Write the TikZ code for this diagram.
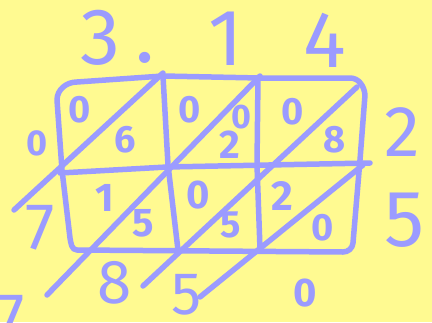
\documentclass[tikz,border=0pt]{standalone}
\usepackage{fontspec}
\setmainfont{Fira Sans}
\definecolor{bg}{RGB}{255,250,145}
\definecolor{ink}{RGB}{155,155,255}
\tikzset{
  pen/.style={draw=ink, line width=5.5pt, line cap=round, line join=round},
  dig/.style={text=ink, inner sep=0pt, font=\fontsize{#1}{#1}\selectfont},
  sdig/.style={text=ink, inner sep=0pt, font=\fontsize{#1}{#1}\selectfont\bfseries},
}
\begin{document}
\begin{tikzpicture}[x=1pt,y=-1pt]
\fill[bg] (0,0) rectangle (432,322);
\useasboundingbox (0,0) rectangle (432,322);
% grid outline
\draw[pen] (77,82) -- (163,76) -- (260,78) -- (350,78) to[out=0,in=95] (365,95) -- (360,160) -- (353,243) to[out=-95,in=0] (343,252) -- (77,250) to[out=180,in=-80] (70,238) -- (62,170) -- (57,100) to[out=90,in=180] (77,82);
\draw[pen] (163,76) -- (168,165) -- (178,250);
\draw[pen] (258,78) -- (257,165) -- (260,249);
\draw[pen] (60,173) -- (167,167) -- (370,163);
% diagonals
\draw[pen] (163,73) -- (14,210);
\draw[pen] (260,76) -- (47,295);
\draw[pen] (357,87) -- (143,286);
\draw[pen] (363,165) -- (200,297);
% top numbers
\node[dig=80] (t3) at (100,38) {3};
\node[dig=80] (tdot) at (145,58) {.};
\node[dig=80] (t1) at (226,39) {1};
\node[dig=80] (t4) at (325,40) {4};
% cells row 1
\node[sdig=38] (a1) at (80,110) {0};
\node[sdig=38] (a2) at (125,140) {6};
\node[sdig=38] (b1) at (190,110) {0};
\node[sdig=34] (bx) at (241,117) {0};
\node[sdig=40] (b2) at (230,145) {2};
\node[sdig=38] (c1) at (293,112) {0};
\node[sdig=38] (c2) at (335,140) {8};
% cells row 2
\node[sdig=40] (d1) at (105,198) {1};
\node[sdig=40] (d2) at (143,223) {5};
\node[sdig=40] (e1) at (198,195) {0};
\node[sdig=38] (e2) at (231,225) {5};
\node[sdig=42] (f1) at (282,196) {2};
\node[sdig=38] (f2) at (323,228) {0};
% left
\node[sdig=36] (l0) at (37,143) {0};
\node[dig=66] (l7) at (40,228) {7};
% right
\node[dig=72] (r2) at (402,132) {2};
\node[dig=80] (r5) at (405,220) {5};
% bottom
\node[dig=62] (b8) at (115,283) {8};
\node[dig=60] (b5) at (187,295) {5};
\node[sdig=40] (b0) at (305,293) {0};
\node[dig=66] (b7) at (10,318) {7};
\end{tikzpicture}
\end{document}
